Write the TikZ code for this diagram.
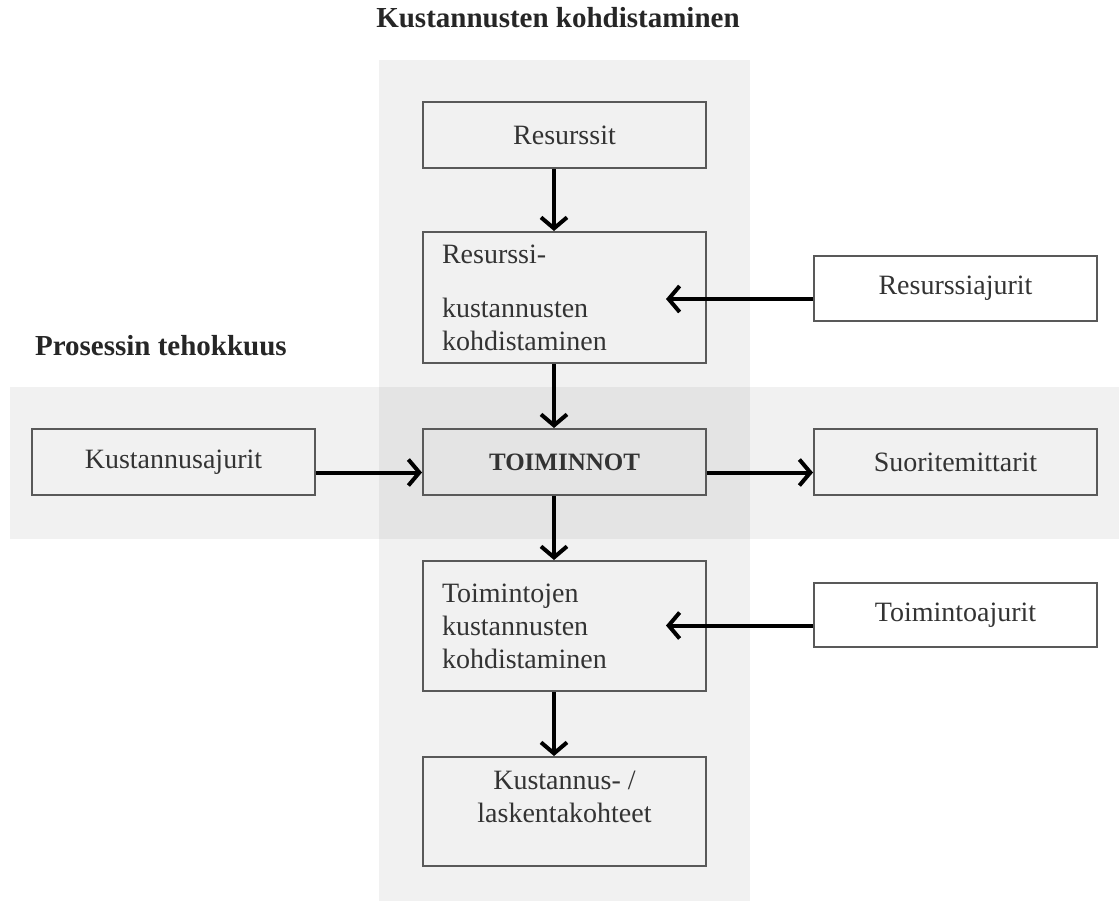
\documentclass[tikz,border=0pt]{standalone}
\usepackage{fontspec}
\setmainfont{Liberation Serif}
\usetikzlibrary{arrows.meta}

\tikzset{
  band/.style={fill=black, fill opacity=0.055},
  heading/.style={font=\fontsize{14.5}{17}\selectfont\bfseries, text=black!85},
  box/.style={draw=black!65, line width=1pt, minimum width=141.5pt, minimum height=33pt,
    font=\fontsize{14}{16.5}\selectfont, text=black!80},
  leftbox/.style={box, align=left, text width=122.5pt, inner xsep=9.5pt},
  flow/.style={-{Straight Barb[length=5.5pt,width=13pt]}, line width=2pt}
}

\begin{document}
\begin{tikzpicture}[x=0.5pt,y=-0.5pt]
	\useasboundingbox (0,0) rectangle (1119,902);
	% bands
	\fill[band] (379,60) rectangle (750,901);
	\fill[band] (10,387) rectangle (1119,539);
	\node[heading] (kohdistus) at (558,18) {Kustannusten kohdistaminen};
	\node[heading, anchor=west] (tehokkuus) at (28,346) {Prosessin tehokkuus};

	\node[box] (resurssit) at (564.5,135) {Resurssit};
	\node[leftbox, minimum height=65.5pt] (reskohd) at (564.5,297.5) {Resurssi-\\[10.5pt]kustannusten\\kohdistaminen};
	\node[box, minimum height=32.5pt] (resajurit) at (955.5,288.5) {Resurssiajurit};
	\node[box] (kustajurit) at (173.5,462) {Kustannusajurit};
	\node[box, font=\fontsize{12.5}{14}\selectfont\bfseries] (toiminnot) at (564.5,462) {TOIMINNOT};
	\node[box] (mittarit) at (955.5,462) {Suoritemittarit};
	\node[leftbox, minimum height=65pt] (toimkohd) at (564.5,626) {Toimintojen\\kustannusten\\kohdistaminen};
	\node[box, minimum height=32pt] (toimajurit) at (955.5,615) {Toimintoajurit};
	\node[box, align=center, minimum height=54.5pt, text depth=15pt] (kohteet) at (564.5,811.5) {Kustannus- /\\laskentakohteet};

	\draw[flow] ([xshift=-5.25pt]resurssit.south) -- ([xshift=-5.25pt]reskohd.north);
	\draw[flow] ([xshift=-5.25pt]reskohd.south) -- ([xshift=-5.25pt]toiminnot.north);
	\draw[flow] ([xshift=-5.25pt]toiminnot.south) -- ([xshift=-5.25pt]toimkohd.north);
	\draw[flow] ([xshift=-5.25pt]toimkohd.south) -- ([xshift=-5.25pt]kohteet.north);
	\draw[flow] ([yshift=-5.25pt]kustajurit.east) -- ([yshift=-5.25pt]toiminnot.west);
	\draw[flow] ([yshift=-5.25pt]toiminnot.east) -- ([yshift=-5.25pt]mittarit.west);
	\coordinate (resin) at ([xshift=-20.5pt,yshift=-5.25pt]reskohd.east |- resajurit.west);
	\coordinate (toimin) at ([xshift=-20.5pt,yshift=-5.25pt]toimkohd.east |- toimajurit.west);
	\draw[flow] ([yshift=-5.25pt]resajurit.west) -- (resin);
	\draw[flow] ([yshift=-5.25pt]toimajurit.west) -- (toimin);
\end{tikzpicture}
\end{document}
